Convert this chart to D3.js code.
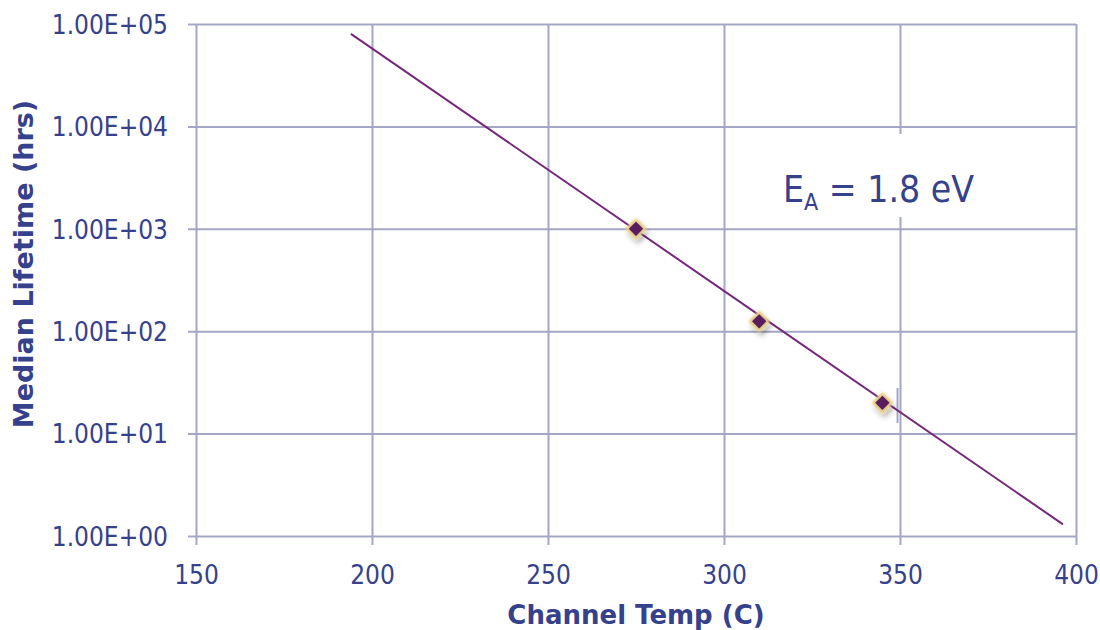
<!DOCTYPE html>
<html>
<head>
<meta charset="utf-8">
<script src="https://cdn.jsdelivr.net/npm/d3@7"></script>
<style>
  html, body { margin: 0; padding: 0; background: #fff; }
  svg { display: block; }
</style>
</head>
<body>
<svg id="chart" width="1100" height="630"></svg>
<script>
// ---- data ----
const xTicks = [150, 200, 250, 300, 350, 400];
const yTicks = [1, 10, 100, 1000, 10000, 100000];
const yTickLabels = ["1.00E+00", "1.00E+01", "1.00E+02", "1.00E+03", "1.00E+04", "1.00E+05"];
const pointTemps = [275, 310, 345];
const pointLifetimes = [1000, 125, 20];
const fitTemps = [194, 396.3];
const fitLifetimes = [80000, 1.3];
const markTemps = [349.3, 349.3];
const markLifetimes = [27.9, 12.7];
const xTitle = "Channel Temp (C)";
const yTitle = "Median Lifetime (hrs)";

// ---- layout ----
const svg = d3.select("#chart");
const pLeft = 196, pRight = 1076, pTop = 24, pBottom = 536;
const textColor = "#36418c";
const gridColor = "#a4a6c6";
const font = "'DejaVu Sans Condensed', 'DejaVu Sans', sans-serif";
const boldFont = "'DejaVu Sans', sans-serif";

const x = d3.scaleLinear().domain([150, 400]).range([pLeft, pRight]);
const y = d3.scaleLog().domain([1, 100000]).range([pBottom, pTop]);

// filters for markers
const defs = svg.append("defs");
const f = defs.append("filter").attr("id", "shadow").attr("x", "-60%").attr("y", "-60%").attr("width", "220%").attr("height", "220%");
f.append("feDropShadow").attr("dx", 2).attr("dy", 4).attr("stdDeviation", 2.5).attr("flood-color", "#000").attr("flood-opacity", 0.3);
const g = defs.append("filter").attr("id", "soft").attr("x", "-50%").attr("y", "-50%").attr("width", "200%").attr("height", "200%");
g.append("feGaussianBlur").attr("stdDeviation", 0.9);

// vertical grid + ticks
const xAxis = d3.axisBottom(x).tickValues(xTicks).tickSize(-(pBottom - pTop)).tickSizeOuter(0).tickFormat(d3.format("d"));
const gx = svg.append("g").attr("transform", `translate(0,${pBottom})`).call(xAxis);
gx.select(".domain").remove();
gx.selectAll(".tick line").attr("stroke", gridColor).attr("stroke-width", 2).attr("y1", 9);
gx.selectAll(".tick text").attr("fill", textColor).attr("font-family", font).attr("font-size", 26).attr("dy", 0).attr("y", 48);

// horizontal grid + ticks
const yAxis = d3.axisLeft(y).tickValues(yTicks).tickSize(-(pRight - pLeft)).tickSizeOuter(0)
  .tickFormat((d, i) => yTickLabels[i]);
const gy = svg.append("g").attr("transform", `translate(${pLeft},0)`).call(yAxis);
gy.select(".domain").remove();
gy.selectAll(".tick line").attr("stroke", gridColor).attr("stroke-width", 2).attr("x1", -8);
gy.selectAll(".tick text").attr("fill", textColor).attr("font-family", font).attr("font-size", 26)
  .attr("x", -28).attr("dy", "0.36em");

// annotation background
svg.append("rect").attr("x", 770).attr("y", 134).attr("width", 220).attr("height", 83).attr("fill", "#fff");

// small stray segment
svg.append("line")
  .attr("x1", x(markTemps[0])).attr("x2", x(markTemps[1]))
  .attr("y1", y(markLifetimes[0])).attr("y2", y(markLifetimes[1]))
  .attr("stroke", gridColor).attr("stroke-width", 2);

// fit line
const line = d3.line().x(d => x(d[0])).y(d => y(d[1]));
svg.append("path")
  .datum(fitTemps.map((t, i) => [t, fitLifetimes[i]]))
  .attr("d", line).attr("fill", "none").attr("stroke", "#75287a").attr("stroke-width", 2);

// markers
const pts = pointTemps.map((t, i) => [t, pointLifetimes[i]]);
const mg = svg.selectAll(".pt").data(pts).enter()
  .append("g").attr("class", "pt")
  .attr("transform", d => `translate(${x(d[0])},${y(d[1])})`)
  .attr("filter", "url(#shadow)");
mg.append("path").attr("d", d3.symbol().type(d3.symbolDiamond2).size(190))
  .attr("fill", "#5a1d5e").attr("stroke", "#ead08a").attr("stroke-width", 3.5)
  .attr("stroke-linejoin", "round").attr("filter", "url(#soft)");
mg.append("path").attr("d", d3.symbol().type(d3.symbolDiamond2).size(130))
  .attr("fill", "#5a1d5e");

// annotation text
const ann = svg.append("text").attr("x", 783).attr("y", 202).attr("fill", textColor)
  .attr("font-family", font).attr("font-size", 37);
ann.append("tspan").text("E");
ann.append("tspan").attr("font-size", 23).attr("dy", 8).text("A");
ann.append("tspan").attr("dy", -8).text(" = 1.8 eV");

// axis titles
svg.append("text").attr("x", 636).attr("y", 624).attr("text-anchor", "middle")
  .attr("fill", textColor).attr("font-family", boldFont).attr("font-weight", "bold").attr("font-size", 26).text(xTitle);
svg.append("text").attr("transform", "translate(33,264) rotate(-90)").attr("text-anchor", "middle")
  .attr("fill", textColor).attr("font-family", boldFont).attr("font-weight", "bold").attr("font-size", 27).text(yTitle);
</script>
</body>
</html>
